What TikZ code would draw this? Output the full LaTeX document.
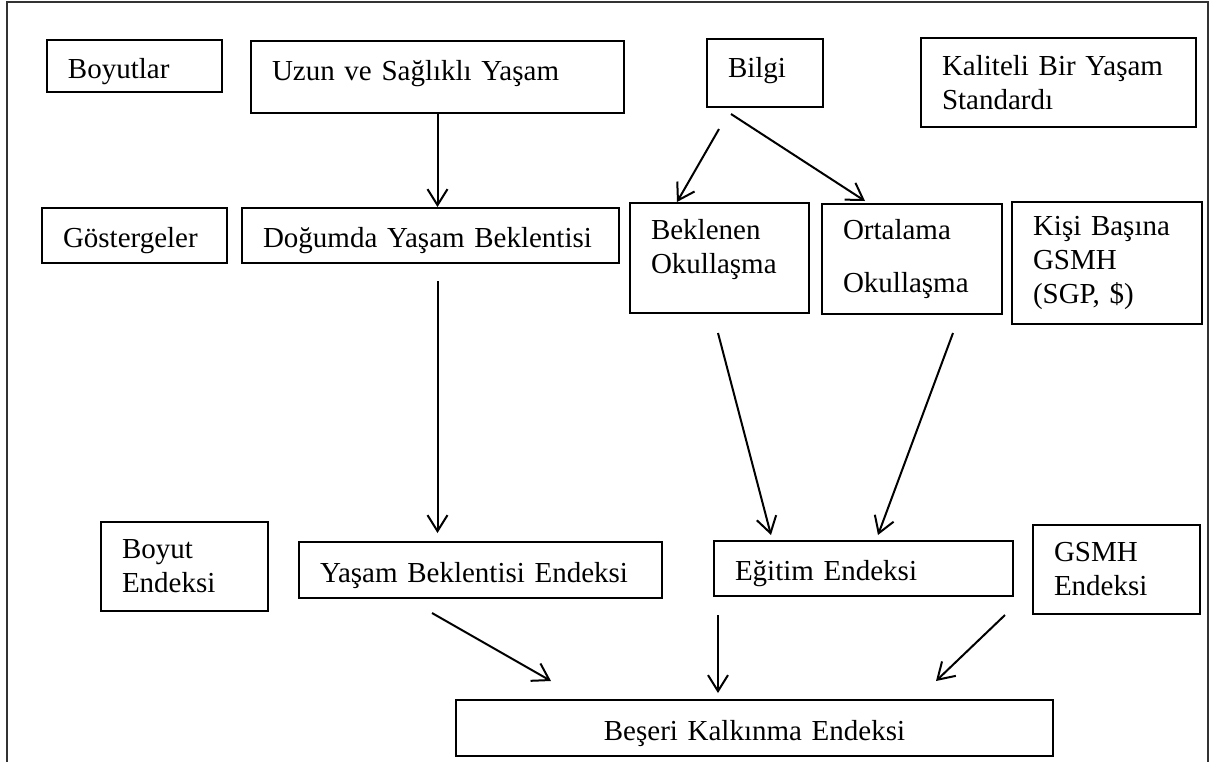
\documentclass[tikz,border=0pt]{standalone}
\usepackage{fontspec}
\setmainfont{Liberation Serif}
\usepackage{tikz}
\usetikzlibrary{arrows.meta}
\usetikzlibrary{positioning, calc}
\tikzset{
    hdibox/.style = {draw=black, line width=1pt, anchor=north west,
        align=left, inner xsep=10.5pt, inner ysep=0pt,
        font=\fontsize{14.5}{17}\selectfont},
    oneline/.style = {text height=12pt, text depth=0pt},
    row_label/.style = {hdibox},
    item/.style = {hdibox},
    result/.style = {hdibox, oneline, align=center},
    frame/.style = {-, draw=black!80, line width=0.8pt},
}

\begin{document}
\begin{tikzpicture}[->,>={Straight Barb[length=8pt,width=10pt]},x=0.5pt,y=-0.5pt,line width=1pt]
            \useasboundingbox (0,0) rectangle (1211,762);
            \draw[frame] (7,762) -- (7,2) -- (1208,2) -- (1208,762);
            % boyutlar
            \node (boyutlar) [row_label, oneline, text width=66.5pt, minimum height=26pt] at (46,39) {Boyutlar};
            \node (uzun) [item, text width=165.5pt, minimum height=36pt, text height=12pt, text depth=9pt] at (250,40) {Uzun ve Sağlıklı Yaşam};
            \node (bilgi) [item, text width=37pt, minimum height=34pt, text height=12pt, text depth=8pt] at (706,38) {Bilgi};
            \node (kaliteli) [item, text width=116.5pt, minimum height=44.5pt] at (920,37) {Kaliteli Bir Yaşam\\Standardı};
            % göstergeler
            \node (gostergeler) [row_label, oneline, text width=71.5pt, minimum height=27.5pt] at (41,207) {Göstergeler};
            \node (dogumda) [item, oneline, text width=167.5pt, minimum height=27.5pt] at (241,207) {Doğumda Yaşam Beklentisi};
            \node (beklenen) [item, text width=68.5pt, minimum height=55pt, text depth=29pt] at (629,202) {Beklenen\\Okullaşma};
            \node (ortalama) [item, text width=69pt, minimum height=55pt] at (821,203) {Ortalama\\[9.5pt]Okullaşma};
            \node (kisi) [item, text width=74pt, minimum height=61pt] at (1011,201) {Kişi Başına\\GSMH\\(SGP, \$)};
            % boyut endeksi
            \node (boyutend) [row_label, text width=62.5pt, minimum height=44.5pt] at (100,521) {Boyut\\Endeksi};
            \node (yasambe) [item, oneline, text width=160.5pt, minimum height=28pt] at (298,541) {Yaşam Beklentisi Endeksi};
            \node (egitim) [item, oneline, text width=128.5pt, minimum height=27.5pt] at (713,540) {Eğitim Endeksi};
            \node (gsmhend) [item, text width=62.5pt, minimum height=44.5pt] at (1032,524) {GSMH\\Endeksi};
            \node (beseri) [result, text width=277.5pt, minimum height=28pt] at (455,699) {Beşeri Kalkınma Endeksi};

            \draw (uzun.south) -- (uzun.south |- dogumda.north);
            \draw ($(bilgi.south)+(-46,21)$) -- ($(beklenen.north west)+(48,0)$);
            \draw ($(bilgi.south west)+(25,6)$) -- ($(ortalama.north west)+(44,-2)$);
            \draw ($(uzun.south |- dogumda.south)+(0,17)$) -- ($(uzun.south |- yasambe.north)+(0,-8)$);
            \draw ($(beklenen.south)+(-1.5,19)$) -- ($(egitim.north west)+(58,-5)$);
            \draw ($(ortalama.south)+(41,18)$) -- ($(egitim.north west)+(165,-5)$);
            \draw ($(yasambe.south)+(-48.5,14)$) -- ($(beseri.north west)+(96,-18)$);
            \draw ($(egitim.south west)+(5,18)$) -- ($(egitim.south west |- beseri.north)+(5,-6)$);
            \draw ($(gsmhend.south west)+(-27,0)$) -- ($(beseri.north east)+(-118,-18)$);
\end{tikzpicture}
\end{document}
